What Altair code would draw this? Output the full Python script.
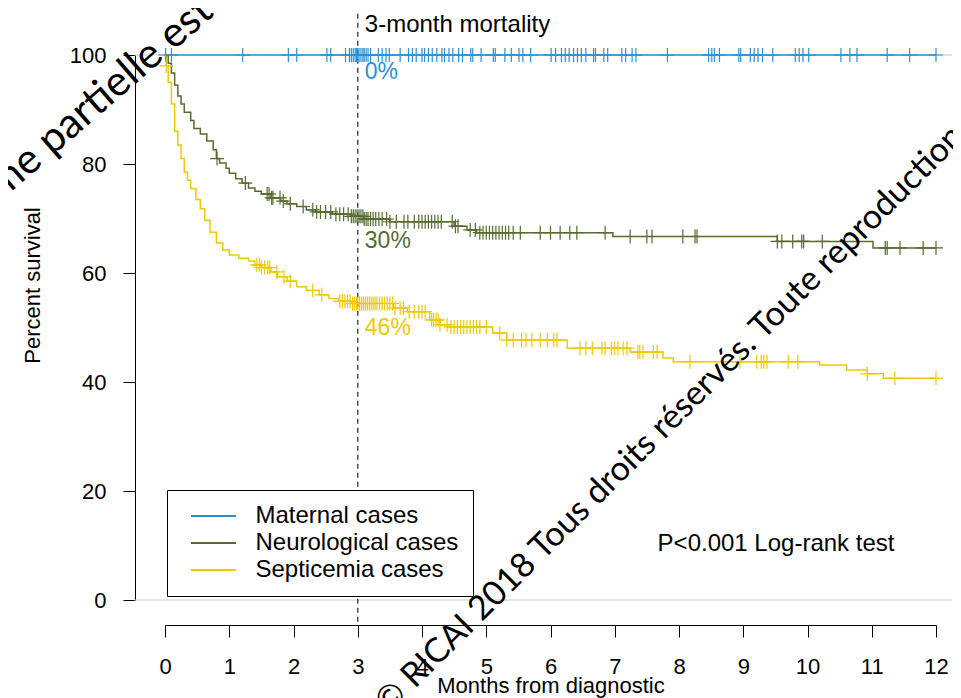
import altair as alt
import pandas as pd

# ---------------- data ----------------
groups = ["Maternal cases", "Neurological cases", "Septicemia cases"]
palette = ["#2a92d4", "#556b2f", "#eec900"]

maternal_time = [0.0, 12.0]
maternal_surv = [100.0, 100.0]
maternal_censor = [0.01, 0.10, 1.21, 1.92, 2.05, 2.52, 2.58, 2.81, 2.87, 2.90, 2.93, 2.96,
                   2.98, 3.00, 3.02, 3.05, 3.08, 3.10, 3.13, 3.16, 3.20, 3.32, 3.38, 3.44,
                   3.49, 3.66, 3.79, 3.85, 3.91, 4.00, 4.04, 4.10, 4.16, 4.23, 4.31, 4.35,
                   4.42, 4.48, 4.57, 4.63, 4.76, 4.79, 4.92, 5.11, 5.14, 5.29, 5.39, 5.51,
                   5.57, 5.69, 6.01, 6.08, 6.17, 6.23, 6.29, 6.36, 6.42, 6.48, 6.55, 6.67,
                   6.70, 6.83, 6.89, 7.11, 7.17, 7.27, 7.33, 7.82, 8.46, 8.51, 8.55, 8.63,
                   8.93, 8.96, 9.11, 9.17, 9.23, 9.30, 9.46, 9.81, 9.87, 9.93, 10.02, 10.52,
                   10.66, 10.77, 11.24, 11.59, 12.0]

neuro_time = [0.0, 0.05, 0.10, 0.15, 0.20, 0.25, 0.30, 0.40, 0.45, 0.55, 0.65, 0.75, 0.80,
              0.85, 0.95, 1.00, 1.10, 1.20, 1.30, 1.40, 1.50, 1.65, 1.80, 1.90, 2.05, 2.20,
              2.35, 2.60, 2.90, 3.10, 3.50, 4.50, 4.70, 4.85, 6.97, 9.53, 11.02, 12.0]
neuro_surv = [100.0, 98.5, 96.7, 94.5, 92.5, 91.0, 89.5, 88.0, 86.5, 85.5, 84.2, 82.6, 81.0,
              80.2, 79.2, 78.3, 77.3, 76.5, 75.6, 75.0, 74.5, 73.8, 73.2, 72.7, 72.2, 71.6,
              71.2, 70.8, 70.4, 69.9, 69.4, 68.6, 67.9, 67.4, 66.7, 65.8, 64.6, 64.6]
neuro_censor = [0.81, 1.25, 1.59, 1.62, 1.66, 1.68, 1.79, 1.84, 1.95, 2.15, 2.30, 2.36, 2.42,
                2.50, 2.58, 2.66, 2.72, 2.78, 2.85, 2.90, 2.93, 2.96, 2.99, 3.02, 3.05, 3.08,
                3.10, 3.13, 3.16, 3.20, 3.24, 3.28, 3.33, 3.38, 3.45, 3.50, 3.60, 3.72, 3.78,
                3.88, 3.95, 4.00, 4.05, 4.10, 4.15, 4.20, 4.25, 4.30, 4.47, 4.52, 4.56, 4.75,
                4.83, 4.90, 4.95, 5.00, 5.05, 5.10, 5.15, 5.20, 5.25, 5.30, 5.35, 5.42, 5.53,
                5.84, 6.00, 6.15, 6.30, 6.41, 6.85, 7.24, 7.50, 7.58, 8.06, 8.25, 8.28, 9.53,
                9.60, 9.77, 9.91, 9.94, 10.23, 11.21, 11.24, 11.44, 11.80, 12.0]

septic_time = [0.0, 0.02, 0.05, 0.10, 0.15, 0.20, 0.25, 0.30, 0.35, 0.40, 0.48, 0.55, 0.62,
               0.70, 0.80, 0.90, 1.00, 1.15, 1.30, 1.40, 1.50, 1.65, 1.75, 1.90, 2.05, 2.20,
               2.40, 2.55, 2.70, 2.90, 3.55, 3.77, 4.12, 4.28, 4.44, 5.10, 5.32, 6.26, 7.24,
               7.75, 7.91, 10.19, 10.61, 10.93, 11.18, 12.0]
septic_surv = [100.0, 98.0, 95.0, 91.0, 86.0, 83.5, 81.0, 78.5, 77.0, 75.5, 73.5, 71.8, 69.7,
               67.5, 65.5, 64.2, 63.3, 62.7, 62.2, 61.5, 61.0, 60.2, 59.3, 58.5, 57.5, 56.8,
               56.0, 55.3, 54.8, 54.4, 53.6, 52.9, 51.4, 50.5, 50.1, 49.0, 47.7, 46.2, 45.5,
               44.4, 43.7, 43.1, 42.2, 41.5, 40.7, 40.7]
septic_censor = [0.02, 1.43, 1.47, 1.50, 1.55, 1.60, 1.63, 1.74, 1.85, 1.95, 2.30, 2.44, 2.72,
                 2.76, 2.80, 2.84, 2.88, 2.92, 2.95, 2.98, 3.00, 3.03, 3.06, 3.09, 3.12, 3.15,
                 3.18, 3.21, 3.24, 3.27, 3.30, 3.34, 3.38, 3.42, 3.46, 3.50, 3.54, 3.58, 3.66,
                 3.71, 3.80, 3.88, 3.95, 4.00, 4.05, 4.15, 4.18, 4.22, 4.25, 4.28, 4.39, 4.45,
                 4.50, 4.55, 4.60, 4.65, 4.70, 4.75, 4.80, 4.85, 4.90, 5.00, 5.21, 5.32, 5.42,
                 5.55, 5.62, 5.71, 5.84, 5.95, 6.05, 6.10, 6.46, 6.55, 6.65, 6.80, 6.85, 6.95,
                 7.00, 7.05, 7.13, 7.19, 7.36, 7.39, 7.44, 7.60, 7.66, 8.17, 8.95, 9.21, 9.28,
                 9.32, 9.37, 9.70, 9.85, 10.93, 11.36, 12.0]

month_ticks = list(range(13))
pct_ticks = [0, 20, 40, 60, 80, 100]
mortality_labels = ["0%", "30%", "46%"]
cutoff_month = [3]
cutoff_title = "3-month mortality"
test_text = "P<0.001 Log-rank test"
watermark_texts = ["même partielle est interdite",
                   "© RICAI 2018 Tous droits réservés. Toute reproduction"]

# ---------------- layout (not data) ----------------
W, H = 771, 545
label_x = 3.11
label_y = [96.8, 65.8, 49.9]
cutoff_title_y = 105.5
test_xy = (9.51, 10.3)
ref_lines_y = [0, 100]
ref_x_range = (-0.48, 12.25)
dash_y_range = (-4, 108)
# (x, y in plot pixels, align, angle, font size)
wm_pos = [(-215, 173, "left", 319, 42), (505, 365, "center", 315, 34)]
FONT = "Liberation Sans"

# ---------------- tables ----------------
def surv_at(ts, ss, t):
    v = ss[0]
    for a, b in zip(ts, ss):
        if a <= t:
            v = b
    return v

series = [(groups[0], maternal_time, maternal_surv, maternal_censor),
          (groups[1], neuro_time, neuro_surv, neuro_censor),
          (groups[2], septic_time, septic_surv, septic_censor)]

curve_rows, cens_rows = [], []
for g, ts, ss, cs_ in series:
    for t, s in zip(ts, ss):
        curve_rows.append({"group": g, "time": t, "surv": s})
    for t in cs_:
        cens_rows.append({"group": g, "time": t, "surv": surv_at(ts, ss, t)})
curves = pd.DataFrame(curve_rows)
censors = pd.DataFrame(cens_rows)

labels_df = pd.DataFrame({"group": groups, "text": mortality_labels,
                          "x": [label_x] * 3, "y": label_y})

xs = alt.Scale(domain=[0, 12], nice=False, zero=False)
ys = alt.Scale(domain=[0, 100], nice=False, zero=False)
cscale = alt.Scale(domain=groups, range=palette)

x_axis = alt.Axis(values=month_ticks, tickSize=12, offset=25, labelFontSize=22,
                  labelPadding=19, labelFlush=False, labelOverlap=False,
                  title="Months from diagnostic", titleFontSize=22, titleFontWeight="normal",
                  titlePadding=-2, grid=False, domainColor="black", tickColor="black",
                  labelColor="black", titleColor="black", labelFont=FONT, titleFont=FONT)
y_axis = alt.Axis(values=pct_ticks, tickSize=12, offset=30, labelFontSize=22,
                  labelPadding=17, labelFlush=False, labelOverlap=False,
                  title="Percent survival", titleFontSize=22, titleFontWeight="normal",
                  titlePadding=25, titleY=230, grid=False, domainColor="black",
                  tickColor="black", labelColor="black", titleColor="black",
                  labelFont=FONT, titleFont=FONT)


def X(field):
    return alt.X(field, scale=xs, axis=x_axis)


def Y(field):
    return alt.Y(field, scale=ys, axis=y_axis)


ref = alt.Chart(pd.DataFrame({"y": ref_lines_y, "x0": [ref_x_range[0]] * 2,
                              "x1": [ref_x_range[1]] * 2})).mark_rule(
    color="#c8c8c8", strokeWidth=1).encode(x=X("x0:Q"), x2="x1:Q", y=Y("y:Q"))

dash = alt.Chart(pd.DataFrame({"x": cutoff_month, "y0": [dash_y_range[0]],
                               "y1": [dash_y_range[1]]})).mark_rule(
    color="#333333", strokeWidth=1.3, strokeDash=[5, 4]).encode(
    x=X("x:Q"), y=Y("y0:Q"), y2="y1:Q")

lines = alt.Chart(curves).mark_line(interpolate="step-after", strokeWidth=1.5).encode(
    x=X("time:Q"), y=Y("surv:Q"),
    color=alt.Color("group:N", scale=cscale, legend=alt.Legend(
        orient="none", legendX=2, legendY=435, title=None, direction="vertical",
        symbolType="M-2.25,0L2.25,0", symbolSize=400, symbolStrokeWidth=1.8,
        symbolOffset=20.5, labelOffset=30, labelFontSize=24, labelFont=FONT,
        labelColor="black", labelLimit=600, padding=14, strokeColor="black",
        fillColor="white", rowPadding=3)))

points = alt.Chart(censors).mark_point(
    shape="M-1,0L1,0M0,-1L0,1", size=196, filled=False, strokeWidth=1.2, opacity=1).encode(
    x=X("time:Q"), y=Y("surv:Q"),
    color=alt.Color("group:N", scale=cscale, legend=None))

pct = alt.Chart(labels_df).mark_text(align="left", baseline="middle", fontSize=23,
                                     font=FONT).encode(
    x=X("x:Q"), y=Y("y:Q"), text="text:N",
    color=alt.Color("group:N", scale=cscale, legend=None))

cut_txt = alt.Chart(pd.DataFrame({"x": [label_x], "y": [cutoff_title_y],
                                  "t": [cutoff_title]})).mark_text(
    align="left", baseline="middle", fontSize=24, font=FONT, color="black").encode(
    x=X("x:Q"), y=Y("y:Q"), text="t:N")

p_txt = alt.Chart(pd.DataFrame({"x": [test_xy[0]], "y": [test_xy[1]],
                                "t": [test_text]})).mark_text(
    align="center", baseline="middle", fontSize=24, font=FONT, color="black").encode(
    x=X("x:Q"), y=Y("y:Q"), text="t:N")

wms = []
for txt, (px, py, al, ang, fs) in zip(watermark_texts, wm_pos):
    wms.append(alt.Chart(pd.DataFrame({"t": [txt]})).mark_text(
        align=al, baseline="middle", angle=ang, fontSize=fs, font="Lato",
        color="black").encode(x=alt.value(px), y=alt.value(py), text="t:N"))

chart = alt.layer(ref, dash, lines, points, pct, cut_txt, p_txt, *wms).properties(
    width=W, height=H,
    autosize=alt.AutoSizeParams(type="none"),
    padding={"left": 157, "top": 47, "right": 17, "bottom": 98},
).configure(font=FONT).configure_view(stroke=None)

chart.save("out.html", embed_options={"renderer": "svg", "actions": False})
